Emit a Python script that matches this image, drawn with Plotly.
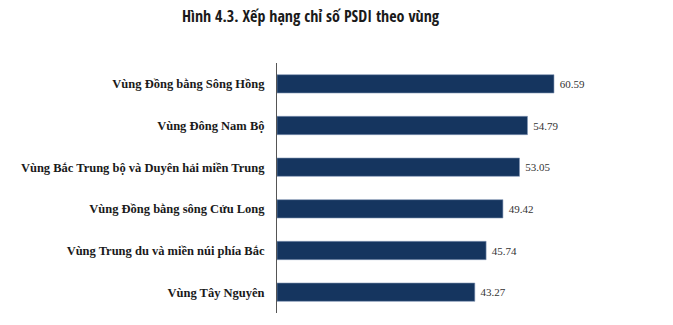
import plotly.graph_objects as go

regions = [
    "Vùng Đồng bằng Sông Hồng",
    "Vùng Đông Nam Bộ",
    "Vùng Bắc Trung bộ và Duyên hải miền Trung",
    "Vùng Đồng bằng sông Cửu Long",
    "Vùng Trung du và miền núi phía Bắc",
    "Vùng Tây Nguyên",
]
psdi = [60.59, 54.79, 53.05, 49.42, 45.74, 43.27]
title_text = "Hình 4.3. Xếp hạng chỉ số PSDI theo vùng"

fig = go.Figure()
fig.add_trace(go.Bar(
    x=psdi,
    y=regions,
    orientation="h",
    width=0.44,
    marker=dict(color="#15355F", line=dict(color="#7f93b3", width=0.6)),
    text=[f" {v:.2f}" for v in psdi],
    textposition="outside",
    textfont=dict(family="Liberation Serif", size=11, color="#333333"),
    cliponaxis=False,
))

fig.update_layout(
    width=673,
    height=325,
    margin=dict(l=277, r=76, t=63, b=12),
    paper_bgcolor="white",
    plot_bgcolor="white",
    showlegend=False,
    title=dict(
        text=f"<b>{title_text}</b>",
        x=0.4614, xanchor="center",
        y=0.95, yanchor="middle",
        font=dict(family="Open Sans Condensed", size=16, color="#1a1a1a"),
    ),
    xaxis=dict(range=[0, 70], visible=False, showgrid=False, zeroline=False),
    yaxis=dict(
        autorange="reversed",
        showline=True,
        linecolor="#555555",
        linewidth=1,
        ticks="",
        showgrid=False,
        ticklabelstandoff=9,
        tickfont=dict(family="Liberation Serif", size=12.5, color="#1a1a1a", weight="bold"),
    ),
)

fig.write_html("out.html")
